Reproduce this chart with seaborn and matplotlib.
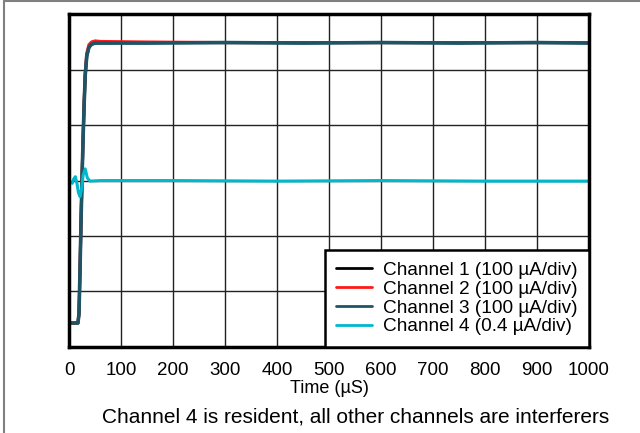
import matplotlib
matplotlib.use('Agg')
import matplotlib.pyplot as plt
import seaborn as sns
import pandas as pd
from matplotlib.lines import Line2D

t_ch1 = [0, 17, 19, 21, 23, 25, 27, 29, 31, 34, 38, 43, 50, 60, 150, 300, 450, 600, 750, 900, 1000]
ch1 = [0.43, 0.43, 0.6, 1.4, 2.3, 3.1, 3.8, 4.4, 4.9, 5.25, 5.4, 5.46, 5.48, 5.49, 5.49, 5.49, 5.49, 5.49, 5.49, 5.49, 5.49]
ch2 = [0.43, 0.43, 0.6, 1.4, 2.3, 3.1, 3.8, 4.45, 4.95, 5.3, 5.45, 5.5, 5.52, 5.51, 5.5, 5.49, 5.49, 5.49, 5.49, 5.49, 5.49]
ch3 = [0.43, 0.43, 0.6, 1.4, 2.3, 3.1, 3.8, 4.4, 4.9, 5.25, 5.4, 5.46, 5.48, 5.48, 5.48, 5.49, 5.48, 5.49, 5.48, 5.49, 5.48]
t_ch4 = [6, 9, 12, 15, 18, 21, 24, 27, 31, 35, 40, 60, 200, 400, 600, 800, 1000]
ch4 = [2.95, 3.03, 3.07, 2.95, 2.78, 2.71, 2.85, 3.1, 3.21, 3.05, 2.99, 3.0, 3.0, 2.99, 3.0, 2.99, 2.99]

labels = ['Channel 1 (100 µA/div)', 'Channel 2 (100 µA/div)',
          'Channel 3 (100 µA/div)', 'Channel 4 (0.4 µA/div)']
colors = ['#000000', '#ff1a1a', '#1d5566', '#00b8cc']

sns.set_style('white')
plt.rcParams['font.family'] = ['Liberation Sans', 'DejaVu Sans']
plt.rcParams['text.color'] = 'black'
plt.rcParams['xtick.color'] = 'black'
plt.rcParams['axes.labelcolor'] = 'black'

fig = plt.figure(figsize=(6.4, 4.33), dpi=100)
ax = fig.add_axes([0.108, 0.199, 0.812, 0.768])

series = [(t_ch1, ch1), (t_ch1, ch2), (t_ch1, ch3), (t_ch4, ch4)]
widths = [2.2, 2.2, 2.6, 2.2]
for (t, v), lab, col, lw in zip(series, labels, colors, widths):
    df = pd.DataFrame({'t': t, 'v': v})
    sns.lineplot(data=df, x='t', y='v', color=col, lw=lw, label=lab, ax=ax)

ax.set_xlim(0, 1000)
ax.set_ylim(0, 6)
ax.set_xticks(range(0, 1001, 100))
ax.set_yticks(range(0, 7))
ax.set_yticklabels([])
ax.tick_params(axis='x', labelsize=13.5, length=0, pad=11)
ax.tick_params(axis='y', length=0)
ax.grid(True, color='#222222', lw=1)
for s in ax.spines.values():
    s.set_color('black')
    s.set_linewidth(2.5)
ax.set_xlabel('Time (µS)', fontsize=13, labelpad=0.5)
ax.set_ylabel('')

leg = ax.legend(loc='lower right', bbox_to_anchor=(1, 0), borderaxespad=0,
                fontsize=13.7, fancybox=False, framealpha=1, handlelength=1.9,
                handletextpad=0.55, labelspacing=0.08, borderpad=0.6)
leg.get_frame().set_edgecolor('black')
leg.get_frame().set_linewidth(1.8)
for h in leg.get_lines():
    h.set_linewidth(2.0)

fig.text(0.556, 0.037, 'Channel 4 is resident, all other channels are interferers',
         ha='center', va='center', fontsize=15)

# outer border of the figure
fig.add_artist(Line2D([0.007, 0.007], [0, 0.997], color='#808080', lw=1.5))
fig.add_artist(Line2D([0.007, 1], [0.997, 0.997], color='#808080', lw=1.5))

fig.savefig('out.png', dpi=100)
